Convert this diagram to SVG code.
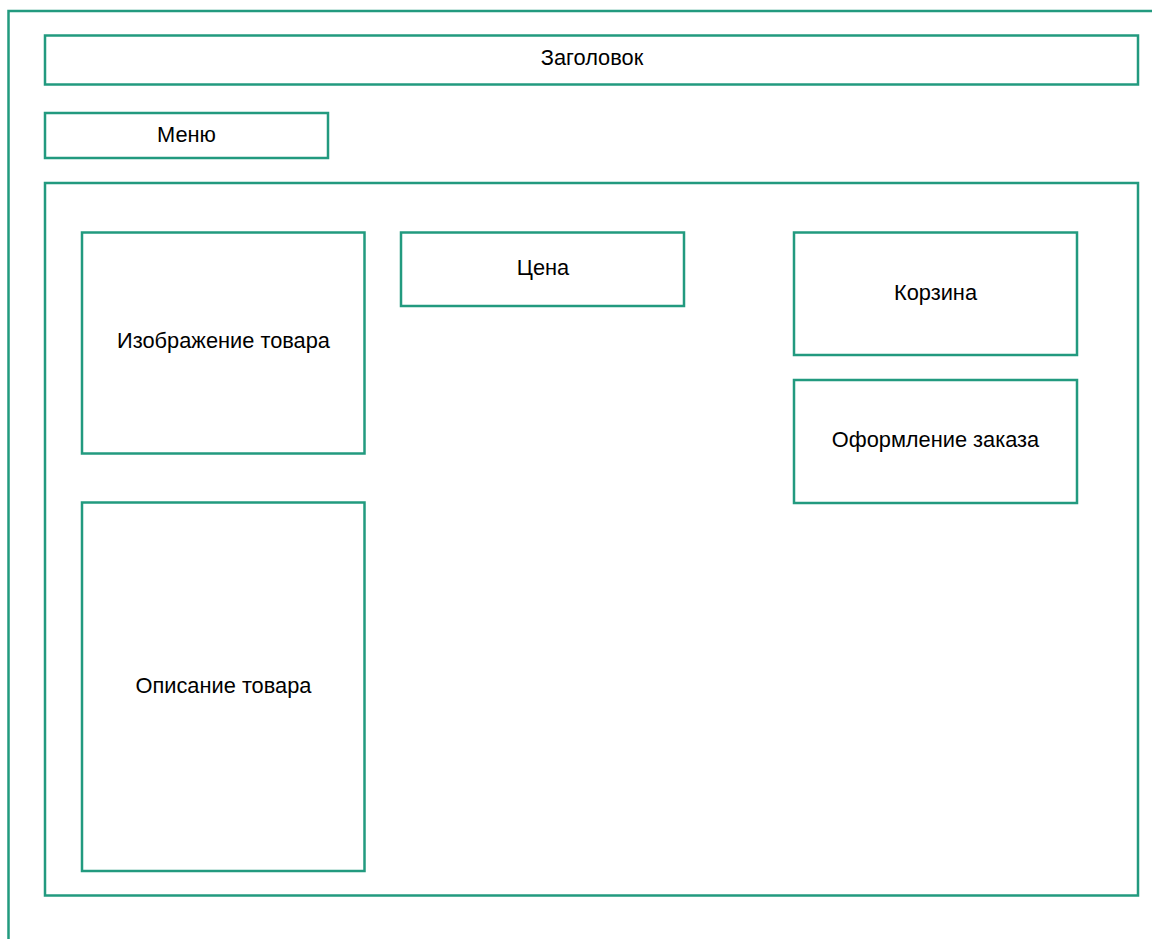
<svg xmlns="http://www.w3.org/2000/svg" width="1152" height="939" viewBox="0 0 1152 939">
<style>
.b{fill:#fff;stroke:#229A7F;stroke-width:2.5}
.f{fill:none;stroke:#229A7F;stroke-width:2.5}
text{font-family:"Liberation Sans",Arial,sans-serif;font-size:21.8px;fill:#000;text-anchor:middle}
</style>
<rect width="1152" height="939" fill="#fff"/>
<g id="frame"><path class="f" d="M8.5 939 V11 H1152"/></g>
<g id="header"><rect class="b" x="45" y="35.5" width="1093" height="49"/><text x="592" y="65">Заголовок</text></g>
<g id="menu"><rect class="b" x="45" y="113" width="283" height="45"/><text x="186.5" y="142">Меню</text></g>
<g id="main"><rect class="b" x="45" y="183" width="1093" height="712.5"/></g>
<g id="image"><rect class="b" x="82" y="232.5" width="282.5" height="221"/><text x="223.5" y="348">Изображение товара</text></g>
<g id="description"><rect class="b" x="82" y="502.5" width="282.5" height="368.5"/><text x="223.5" y="693">Описание товара</text></g>
<g id="price"><rect class="b" x="401" y="232.5" width="283" height="73.5"/><text x="543" y="275">Цена</text></g>
<g id="cart"><rect class="b" x="794" y="232.5" width="283" height="122.5"/><text x="935.5" y="300">Корзина</text></g>
<g id="order"><rect class="b" x="794" y="380" width="283" height="123"/><text x="935.5" y="447">Оформление заказа</text></g>
<g id="connectors"></g>
</svg>
